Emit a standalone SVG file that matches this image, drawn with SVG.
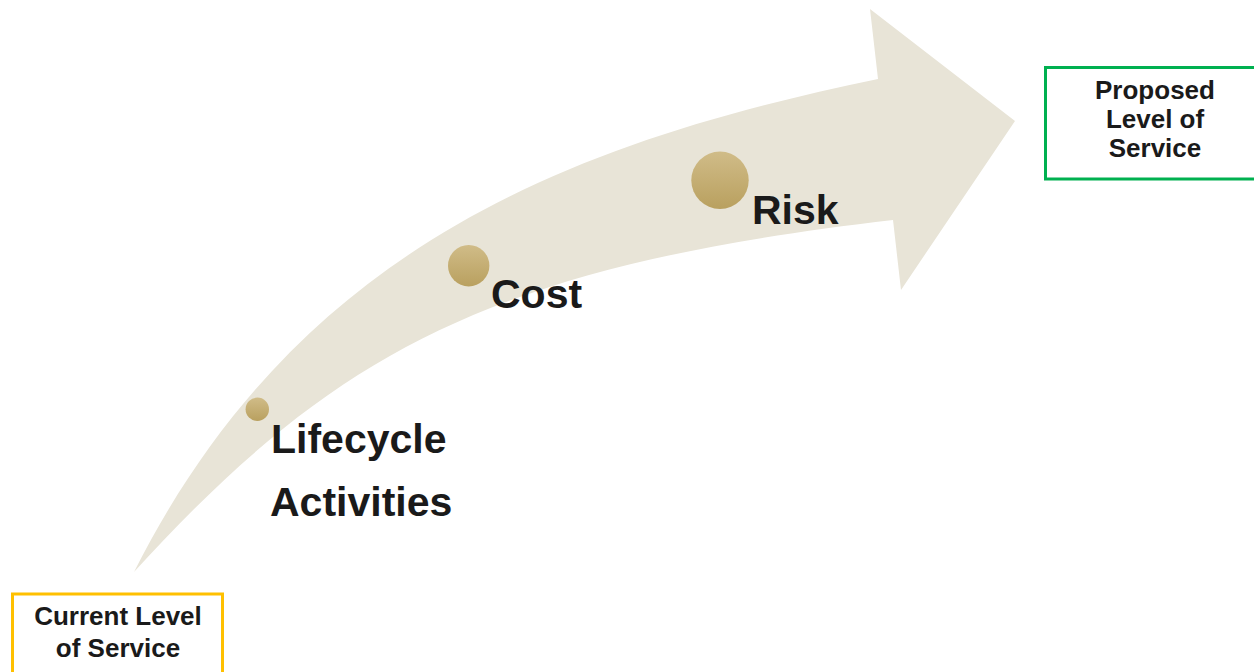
<svg xmlns="http://www.w3.org/2000/svg" width="1254" height="672" viewBox="0 0 1254 672">
<defs>
<linearGradient id="gold" x1="0" y1="0" x2="0" y2="1">
<stop offset="0" stop-color="#d0bc88"/>
<stop offset="1" stop-color="#b9a05f"/>
</linearGradient>
<style>
.lbl{font-family:"Liberation Sans",Arial,sans-serif;font-weight:bold;font-size:41px;fill:#1a1a1a}
.box{font-family:"Liberation Sans",Arial,sans-serif;font-weight:bold;font-size:26px;fill:#1a1a1a;text-anchor:middle}
.dot{fill:url(#gold)}
</style>
</defs>
<rect width="1254" height="672" fill="#ffffff"/>
<g id="connectors">
<path id="arrow" d="M134,572 C294,255 555,146 878,79 L870,9 L1015,121 L901,290 L893,220 C496,266 337,349 134,572 Z" fill="#e8e4d7"/>
</g>
<g id="lifecycle">
<circle class="dot" cx="257.3" cy="409.3" r="11.7"/>
<text class="lbl" x="271" y="453">Lifecycle</text>
<text class="lbl" x="270" y="516">Activities</text>
</g>
<g id="cost">
<circle class="dot" cx="468.7" cy="265.7" r="20.7"/>
<text class="lbl" x="491" y="308">Cost</text>
</g>
<g id="risk">
<circle class="dot" cx="720" cy="180.3" r="28.7"/>
<text class="lbl" x="752" y="224">Risk</text>
</g>
<g id="current">
<rect x="12.5" y="594" width="210" height="90" fill="#ffffff" stroke="#ffc000" stroke-width="3"/>
<text class="box" x="118" y="625">Current Level</text>
<text class="box" x="118" y="657">of Service</text>
</g>
<g id="proposed">
<rect x="1045.5" y="67.5" width="220" height="111.5" fill="#ffffff" stroke="#00b050" stroke-width="3"/>
<text class="box" x="1155" y="99">Proposed</text>
<text class="box" x="1155" y="128">Level of</text>
<text class="box" x="1155" y="157">Service</text>
</g>
</svg>
